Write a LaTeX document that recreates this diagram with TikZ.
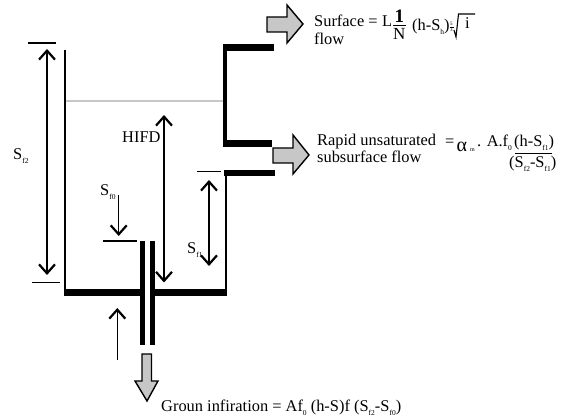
\documentclass[tikz,border=0pt]{standalone}
\usepackage{fontspec}
\setmainfont{Liberation Serif}
\usetikzlibrary{arrows.meta}
\newcommand{\sbs}[2]{#1\raisebox{-0.5ex}{\fontsize{7.5}{7.5}\selectfont #2}}
\begin{document}
\begin{tikzpicture}[x=1pt,y=-1pt,
  wall/.style={line width=2pt,line cap=butt},
  thick wall/.style={line width=6.2pt,line cap=butt},
  side wall/.style={line width=4.4pt,line cap=butt},
  pipe/.style={line width=5pt,line cap=butt},
  tick/.style={line width=1.1pt},
  dim/.style={line width=1.2pt,{Straight Barb[length=9pt,width=16pt,line width=2.2pt]}-{Straight Barb[length=9pt,width=16pt,line width=2.2pt]}},
  one/.style={line width=1.2pt,-{Straight Barb[length=9pt,width=16pt,line width=2.2pt]}},
  block/.style={draw=black,fill=black!22,line width=1.4pt,line join=miter},
  txt/.style={inner sep=0pt,anchor=base west,font=\fontsize{16.4}{18}\selectfont}]
\useasboundingbox (0,0) rectangle (563,419);
% walls
\draw[wall] (64.5,50) -- (64.5,293);
\draw[thick wall] (63.5,292.5) -- (140,292.5);
\draw[thick wall] (153,292.5) -- (227,292.5);
\draw[wall] (225.5,293) -- (225.5,173);
\draw[thick wall] (224,173) -- (275,173);
\draw[thick wall] (223,143.5) -- (272,143.5);
\draw[side wall] (225,146) -- (225,47);
\draw[thick wall] (223,47.5) -- (274,47.5);
\draw[pipe] (142,241) -- (142,345);
\draw[pipe] (152.5,241) -- (152.5,345);
\draw[line width=1.2pt,black!22] (66,101) -- (223,101);
% ticks
\coordinate (t1a) at (28,43); \coordinate (t1b) at (56,43);
\draw[tick] (t1a) -- (t1b);
\coordinate (t2a) at (32,282.7); \coordinate (t2b) at (60,282.7);
\draw[tick] (t2a) -- (t2b);
\coordinate (t3a) at (103,241); \coordinate (t3b) at (137,241);
\draw[tick] (t3a) -- (t3b);
\coordinate (t4a) at (197,171.7); \coordinate (t4b) at (221,171.7);
\draw[tick] (t4a) -- (t4b);
% dimension arrows
\coordinate (a1) at (47,49); \coordinate (a2) at (47,275);
\draw[dim] (a1) -- (a2);
\coordinate (b1) at (164,115); \coordinate (b2) at (164,282.5);
\draw[dim] (b1) -- (b2);
\coordinate (c1) at (209,180); \coordinate (c2) at (209,266);
\draw[dim] (c1) -- (c2);
\coordinate (d1) at (118.7,195); \coordinate (d2) at (118.7,236);
\draw[one] (d1) -- (d2);
\coordinate (e1) at (117.3,360); \coordinate (e2) at (117.3,308);
\draw[one] (e1) -- (e2);
% block arrows
\draw[block] (267,17) -- (287,17) -- (287,5) -- (303,24) -- (287,43) -- (287,32) -- (267,32) -- cycle;
\draw[block] (273,148) -- (293,148) -- (293,135) -- (309,155) -- (293,174) -- (293,163) -- (273,163) -- cycle;
\draw[block] (142,354) -- (151.5,354) -- (151.5,381) -- (158,381) -- (147,401) -- (135,381) -- (142,381) -- cycle;
% labels
\node[txt] (lf2) at (13,160) {\sbs{S}{f2}};
\node[txt] (lhifd) at (122,143) {HIFD};
\node[txt] (lf0) at (100,196) {\sbs{S}{f0}};
\node[txt] (lf1) at (187,254) {\sbs{S}{f1}};
\node[txt] (ls1) at (314,27) {Surface = };
\node[txt] (lL) at (382,27) {L};
\node[txt] (ls2) at (314,45) {flow};
\node[txt,font=\fontsize{19}{19}\selectfont\bfseries] (n1) at (394.5,23) {1};
\draw[line width=1.3pt] (393,25.5) -- (405.5,25.5);
\node[txt,font=\fontsize{17}{17}\selectfont] (n2) at (393,40) {N};
\node[txt] (ls3) at (412,31) {(h-\sbs{S}{h})};
\node[txt,font=\fontsize{5}{5}\selectfont] (n5) at (450,25.5) {5};
\node[txt,font=\fontsize{5}{5}\selectfont] (n3) at (450,32) {3};
\draw[line width=.6pt] (450,27.5) -- (453.5,27.5);
\draw[line width=1.1pt] (454,30) -- (456,37) -- (458.5,14) -- (475,14);
\node[txt] (li) at (465,29) {i};
\node[txt] (lr1) at (317,146) {Rapid unsaturated};
\node[txt] (lr2) at (317,163) {subsurface flow};
\node[txt] (lr3) at (445,147) {=};
\node[txt,font=\fontsize{20}{20}\selectfont] (la) at (456.5,152) {α};
\node[txt,font=\fontsize{6}{6}\selectfont] (lm) at (470,152) {m};
\node[txt] (lr4) at (477,147) {. A.\sbs{f}{0}};
\node[txt] (lr5) at (514,147) {(h-\sbs{S}{f1})};
\draw[line width=1.1pt] (515,153.5) -- (552,153.5);
\node[txt] (lr6) at (509,168) {(\sbs{S}{f2}-\sbs{S}{f1})};
\node[txt] (lg) at (161,412) {Groun infiration = A\sbs{f}{0} (h-S)f (\sbs{S}{f2}-\sbs{S}{f0})};
\end{tikzpicture}
\end{document}
